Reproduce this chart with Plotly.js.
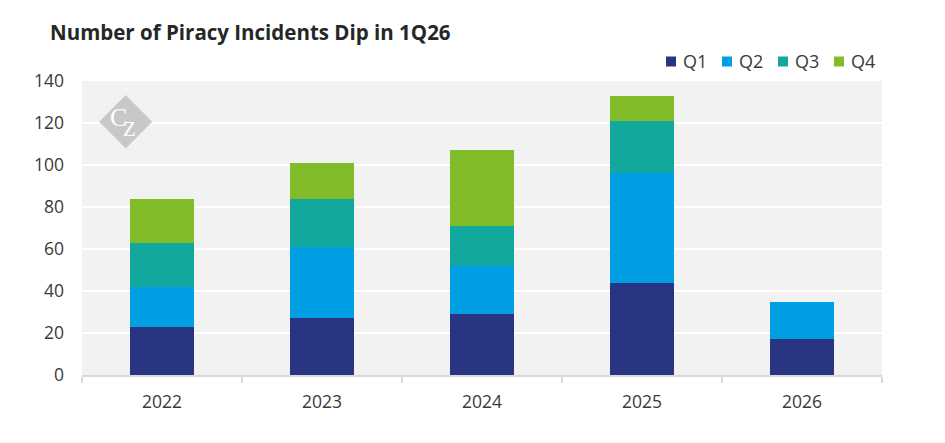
<!DOCTYPE html>
<html>
<head>
<meta charset="utf-8">
<script src="https://cdn.plot.ly/plotly-3.0.1.min.js"></script>
<style>
  html, body { margin: 0; padding: 0; background: #fff; }
  #chart { width: 945px; height: 443px; }
</style>
</head>
<body>
<div id="chart"></div>
<script>
var years = ["2022", "2023", "2024", "2025", "2026"];
var q1 = [23, 27, 29, 44, 17];
var q2 = [19, 34, 23, 52, 18];
var q3 = [21, 23, 19, 25, null];
var q4 = [21, 17, 36, 12, null];
var seriesNames = ["Q1", "Q2", "Q3", "Q4"];
var seriesColors = ["#283583", "#009fe3", "#13a89e", "#80bc28"];

var traces = [q1, q2, q3, q4].map(function(vals, i) {
  return {
    type: "bar",
    x: years,
    y: vals,
    name: seriesNames[i],
    marker: {color: seriesColors[i], line: {width: 0}},
    hoverinfo: "x+y+name"
  };
});

// plot area is 800 x 294 px (l=82, t=81); helpers to go from pixels to paper
function px(x) { return (x - 82) / 800; }
function py(y) { return (375 - y) / 294; }

// watermark logo
var shapes = [{
  type: "path",
  xref: "paper", yref: "paper",
  path: "M " + px(125.7) + " " + py(95) + " L " + px(152.2) + " " + py(121.7) +
        " L " + px(125.7) + " " + py(148.4) + " L " + px(99.2) + " " + py(121.7) + " Z",
  fillcolor: "#c8c8c8",
  line: {width: 0},
  layer: "above"
}];
var annotations = [
  {xref: "paper", yref: "paper", x: px(118), y: py(117), xanchor: "center", yanchor: "middle",
   text: "C", showarrow: false,
   font: {family: "Liberation Serif", size: 26, color: "#ffffff"}},
  {xref: "paper", yref: "paper", x: px(129.5), y: py(129), xanchor: "center", yanchor: "middle",
   text: "Z", showarrow: false,
   font: {family: "Liberation Serif", size: 21, color: "#ffffff"}}
];

// legend row drawn by hand so the spacing matches
seriesNames.forEach(function(name, i) {
  var left = 666 + 56 * i;
  shapes.push({
    type: "rect", xref: "paper", yref: "paper",
    x0: px(left), x1: px(left + 10), y0: py(66.5), y1: py(56.5),
    fillcolor: seriesColors[i], line: {width: 0}
  });
  annotations.push({
    xref: "paper", yref: "paper", x: px(left + 15), y: py(61),
    xanchor: "left", yanchor: "middle", showarrow: false,
    text: name, font: {family: "Open Sans", size: 18, color: "#3a3a3a"}
  });
});

var layout = {
  width: 945,
  height: 443,
  barmode: "stack",
  bargap: 0.6,
  paper_bgcolor: "#ffffff",
  plot_bgcolor: "#f2f2f2",
  margin: {l: 82, r: 63, t: 81, b: 68},
  font: {family: "Open Sans", size: 17.5, color: "#3a3a3a"},
  title: {
    text: "<b>Number of Piracy Incidents Dip in 1Q26</b>",
    font: {family: "Open Sans", size: 20.5, color: "#262626"},
    xref: "container", x: 50 / 945, xanchor: "left",
    yref: "container", y: 1 - 33 / 443, yanchor: "middle"
  },
  showlegend: false,
  xaxis: {
    type: "category",
    showgrid: false,
    showline: true,
    linecolor: "#d9d9d9",
    linewidth: 2,
    ticks: "outside",
    tickson: "boundaries",
    ticklen: 6,
    tickwidth: 2,
    tickcolor: "#d9d9d9",
    ticklabelstandoff: 10,
    tickfont: {size: 17.5, color: "#3a3a3a"},
    zeroline: false
  },
  yaxis: {
    range: [0, 140],
    dtick: 20,
    showgrid: true,
    gridcolor: "#ffffff",
    gridwidth: 2,
    zeroline: false,
    showline: false,
    ticks: "",
    ticklabelstandoff: 17,
    tickfont: {size: 17.5, color: "#3a3a3a"}
  },
  shapes: shapes,
  annotations: annotations
};

Plotly.newPlot(document.getElementById("chart"), traces, layout, {displayModeBar: false, staticPlot: true});
</script>
</body>
</html>
